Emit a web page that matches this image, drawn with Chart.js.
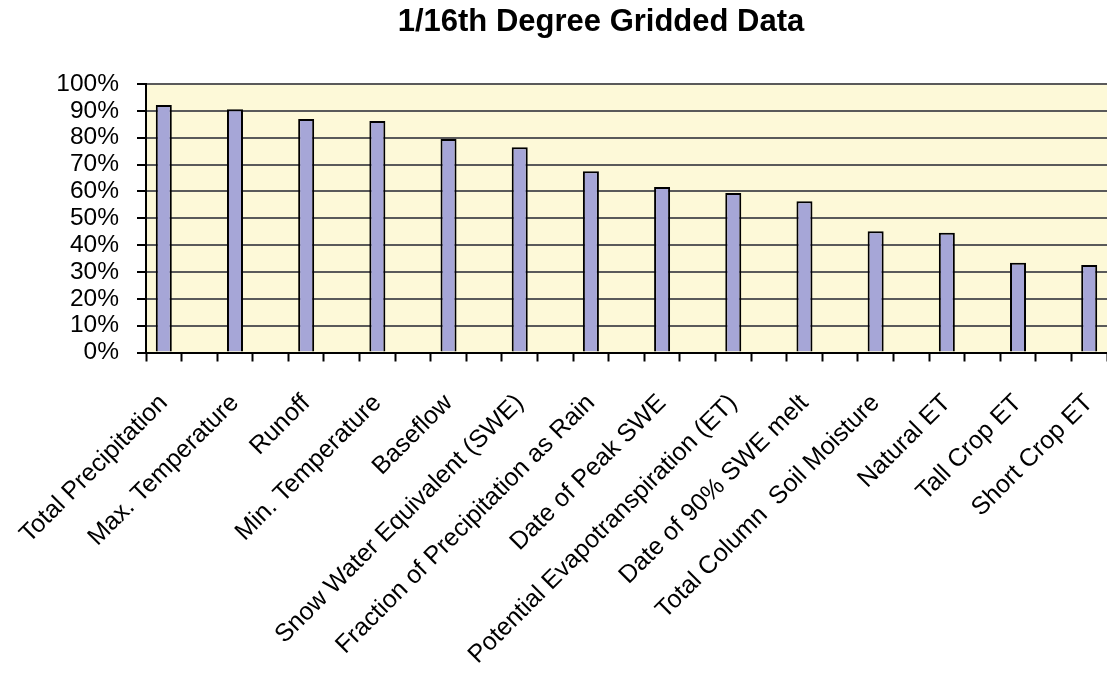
<!DOCTYPE html>
<html>
<head>
<meta charset="utf-8">
<script src="https://cdn.jsdelivr.net/npm/chart.js@4"></script>
<style>
  body { margin: 0; background: #fff; }
  #wrap { width: 1107px; height: 673px; position: relative; }
</style>
</head>
<body>
<div id="wrap"><canvas id="gridChart"></canvas></div>
<script>
const chartTitle = "1/16th Degree Gridded Data";
const categories = [
  "Total Precipitation", "Max. Temperature", "Runoff", "Min. Temperature",
  "Baseflow", "Snow Water Equivalent (SWE)", "Fraction of Precipitation as Rain",
  "Date of Peak SWE", "Potential Evapotranspiration (ET)", "Date of 90% SWE melt",
  "Total Column  Soil Moisture", "Natural ET", "Tall Crop ET", "Short Crop ET"
];
const values = [92.2, 90.6, 87.0, 86.2, 79.5, 76.4, 67.5, 61.6, 59.4, 56.3, 45.2, 44.6, 33.4, 32.6];
const yTicks = [0, 10, 20, 30, 40, 50, 60, 70, 80, 90, 100];

// excel chart has an empty slot between every bar
const labels = [];
const slotData = [];
categories.forEach((c, i) => {
  if (i > 0) { labels.push(""); slotData.push(null); }
  labels.push(c);
  slotData.push(values[i]);
});

const FONT = "'Liberation Sans', Arial, sans-serif";

const plotBg = {
  id: "plotBg",
  beforeDraw(chart) {
    const { ctx, chartArea: a } = chart;
    ctx.save();
    ctx.fillStyle = "#fdf9d8";
    ctx.fillRect(a.left, a.top, a.right - a.left, a.bottom - a.top);
    ctx.restore();
  },
  afterDraw(chart) {
    const ctx = chart.ctx;
    ctx.save();
    ctx.fillStyle = "#000";
    ctx.font = "bold 31px " + FONT;
    ctx.textAlign = "center";
    ctx.textBaseline = "middle";
    ctx.fillText(chartTitle, 601, 22);
    ctx.restore();
  }
};

new Chart(document.getElementById("gridChart").getContext("2d"), {
  type: "bar",
  data: {
    labels: labels,
    datasets: [{
      data: slotData,
      backgroundColor: "#a6a6d7",
      borderColor: "#000",
      borderWidth: 2,
      barPercentage: 0.45,
      categoryPercentage: 1
    }]
  },
  options: {
    responsive: true,
    maintainAspectRatio: false,
    animation: false,
    layout: { padding: { top: 84, left: 0, right: 0, bottom: 0 } },
    plugins: {
      legend: { display: false },
      tooltip: { enabled: false }
    },
    scales: {
      x: {
        offset: true,
        grid: {
          offset: true,
          drawOnChartArea: false,
          drawTicks: true,
          tickLength: 9,
          tickColor: "#000",
          tickWidth: 2
        },
        border: { color: "#000", width: 2 },
        ticks: {
          autoSkip: false,
          maxRotation: 45,
          minRotation: 45,
          padding: 27,
          color: "#000",
          font: { family: FONT, size: 25 }
        },
        afterFit: s => {
          s.height = 320.5;
          s.paddingLeft = 0;
          s.paddingRight = 0;
        }
      },
      y: {
        min: 0,
        max: 100,
        afterBuildTicks: s => { s.ticks = yTicks.map(v => ({ value: v })); },
        grid: {
          color: "#5a5a5a",
          lineWidth: 2,
          tickLength: 9,
          tickColor: "#000",
          tickWidth: 2
        },
        border: { color: "#000", width: 2 },
        ticks: {
          autoSkip: false,
          padding: 18,
          color: "#000",
          font: { family: FONT, size: 24.5 },
          callback: v => v + "%"
        },
        afterFit: s => {
          s.width = 146;
          s.paddingTop = 0;
          s.paddingBottom = 0;
        }
      }
    }
  },
  plugins: [plotBg]
});
</script>
</body>
</html>
